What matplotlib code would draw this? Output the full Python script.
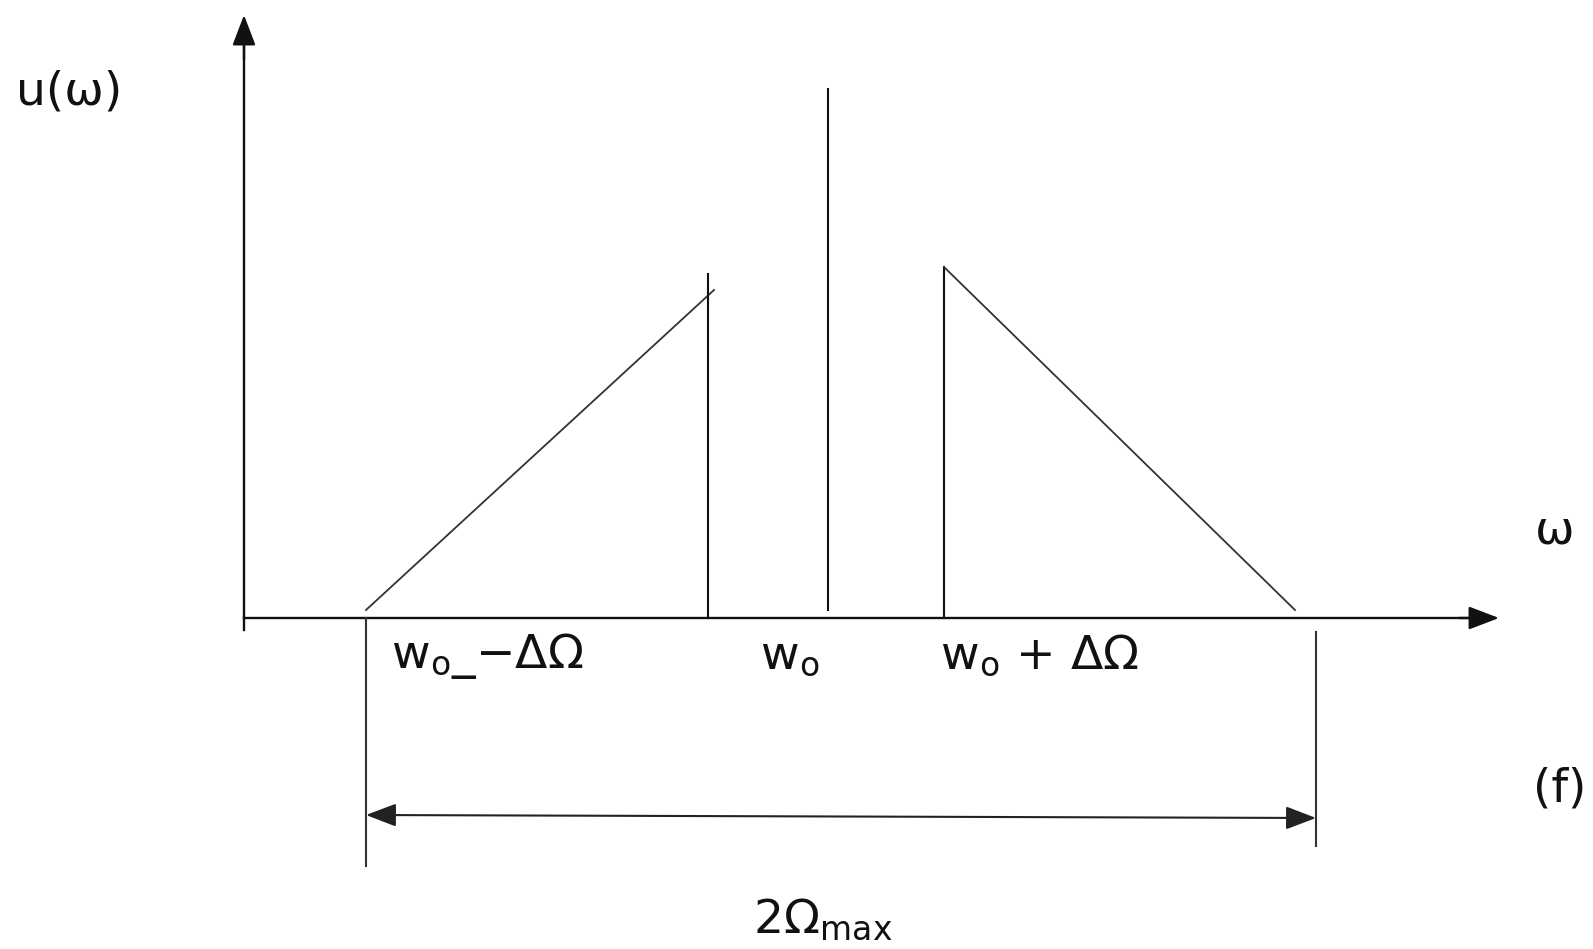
import matplotlib
matplotlib.use("Agg")
import matplotlib.pyplot as plt

# ---- diagram data (pixel-like units; y measured downward as in the picture) ----
baseline = 618
axis_origin_x = 244
axis_top = 15
axis_end_x = 1499

# lower sideband ramp (frequency, level)
lsb_x = [366, 714]
lsb_y = [610, 290]
lsb_edge_x = 708
lsb_edge_top = 274

# carrier
carrier_x = 828
carrier_top = 89

# upper sideband ramp
usb_x = [944, 1295]
usb_y = [267, 610]
usb_edge_top = 267

# bandwidth bracket
bracket_x = [366, 1316]
bracket_left_y = [618, 866]
bracket_right_y = [632, 846]
bracket_arrow_y = [815, 818]

labels = ["u(ω)", "ω", "(f)", r"2Ω$_{\mathrm{max}}$",
          r"w$_{\mathrm{o}}$_−ΔΩ", r"w$_{\mathrm{o}}$", r"w$_{\mathrm{o}}$ + ΔΩ"]
label_x = [69, 1555, 1560, 823, 391, 760, 940]
label_y = [92, 531, 789, 920, 656, 656, 656]
label_ha = ["center", "center", "center", "center", "left", "left", "left"]

W, H = 1593, 949
fig = plt.figure(figsize=(W / 100, H / 100), dpi=100)
ax = fig.add_axes([0, 0, 1, 1])
ax.set_xlim(0, W)
ax.set_ylim(H, 0)
ax.axis("off")

plt.rcParams["mathtext.default"] = "regular"
ink = "#111111"

# axes with arrows
ax.plot([axis_origin_x, axis_origin_x], [630, 40], color=ink, lw=1.7)
ax.annotate("", xy=(axis_origin_x, axis_top), xytext=(axis_origin_x, 60),
            arrowprops=dict(arrowstyle="-|>,head_length=1.1,head_width=0.42",
                            color=ink, lw=1.7, mutation_scale=17,
                            shrinkA=0, shrinkB=0))
ax.plot([axis_origin_x, axis_end_x - 20], [baseline, baseline], color=ink, lw=1.7)
ax.annotate("", xy=(axis_end_x, baseline), xytext=(axis_end_x - 40, baseline),
            arrowprops=dict(arrowstyle="-|>,head_length=1.1,head_width=0.42",
                            color=ink, lw=1.7, mutation_scale=17,
                            shrinkA=0, shrinkB=0))

# spectrum
ax.plot(lsb_x, lsb_y, color="#333333", lw=1.3)
ax.plot([lsb_edge_x, lsb_edge_x], [lsb_edge_top, baseline], color=ink, lw=1.5)
ax.plot([carrier_x, carrier_x], [carrier_top, 610], color=ink, lw=1.5)
ax.plot([usb_x[0], usb_x[0]], [usb_edge_top, baseline], color=ink, lw=1.5)
ax.plot(usb_x, usb_y, color="#333333", lw=1.3)

# bracket
ax.plot([bracket_x[0]] * 2, bracket_left_y, color="#333333", lw=1.5)
ax.plot([bracket_x[1]] * 2, bracket_right_y, color="#333333", lw=1.5)
ax.annotate("", xy=(bracket_x[1], bracket_arrow_y[1]), xytext=(bracket_x[0], bracket_arrow_y[0]),
            arrowprops=dict(arrowstyle="<|-|>,head_length=1.1,head_width=0.42",
                            color="#222222", lw=1.5, mutation_scale=17,
                            shrinkA=0, shrinkB=0))

for t, x, y, ha in zip(labels, label_x, label_y, label_ha):
    ax.text(x, y, t, ha=ha, va="center", fontsize=34, color=ink,
            family="DejaVu Sans")

fig.savefig("out.png", dpi=100, facecolor="white")
